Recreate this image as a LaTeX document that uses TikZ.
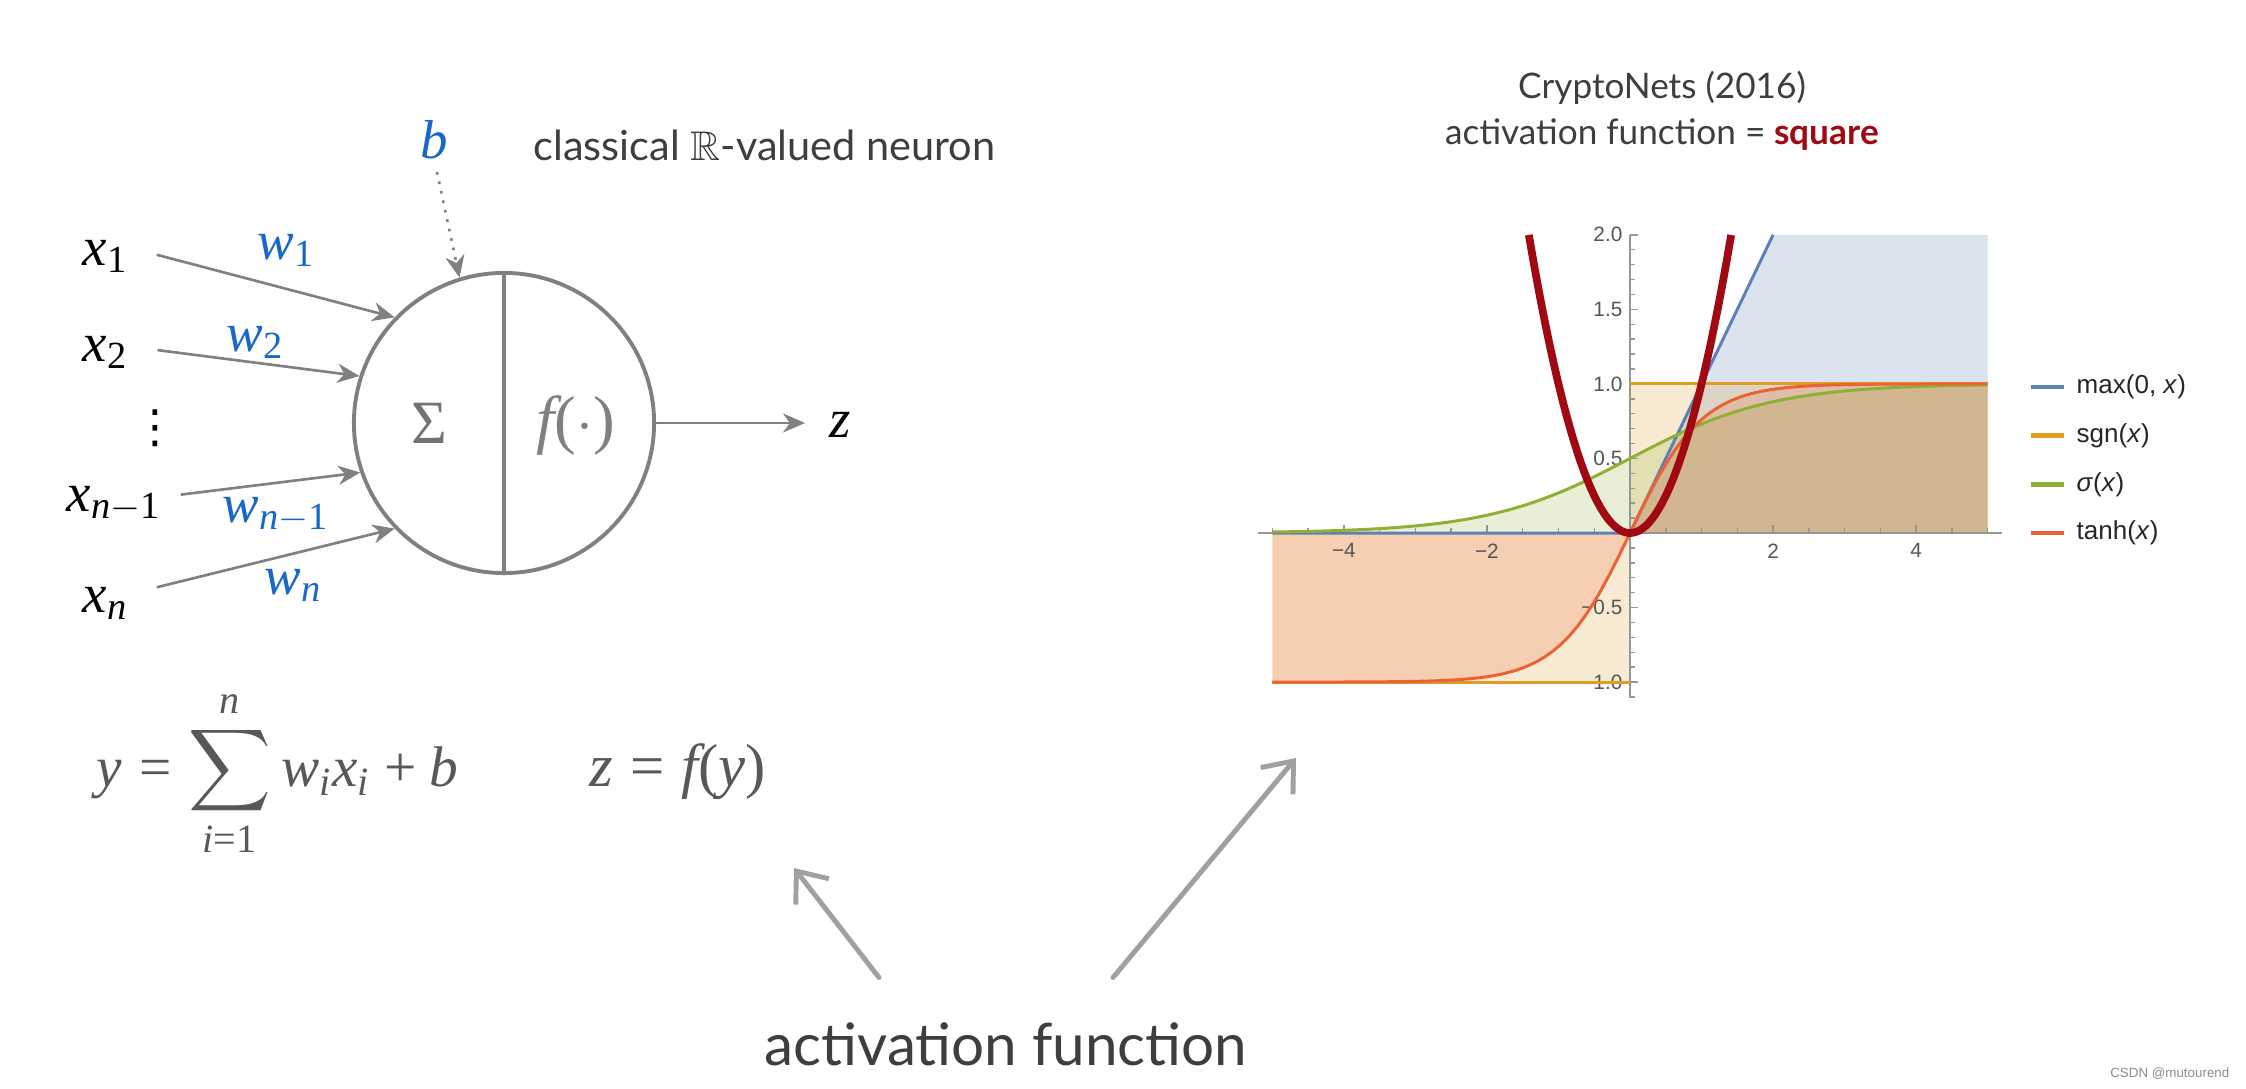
\documentclass[tikz,border=0pt]{standalone}
\usepackage{amsmath,amssymb}
\usepackage[no-math]{fontspec}
\setmainfont{Lato}
\newfontfamily\plotfont{Liberation Sans}
\newfontfamily\djv{DejaVu Sans}
\newfontfamily\lserif{Liberation Serif}[NFSSFamily=lserif]
\DeclareSymbolFont{letters}{TU}{lserif}{m}{it}
\DeclareSymbolFont{operators}{TU}{lserif}{m}{n}
\usetikzlibrary{arrows.meta,positioning}

\definecolor{nrngray}{RGB}{128,128,128}
\definecolor{wblue}{RGB}{24,104,204}
\definecolor{eqgray}{RGB}{88,88,88}
\definecolor{txtgray}{RGB}{62,62,62}
\definecolor{skgray}{RGB}{160,160,160}
\definecolor{sqred}{RGB}{160,8,18}
\definecolor{mmblue}{RGB}{94,129,181}
\definecolor{mmorange}{RGB}{225,156,36}
\definecolor{mmgreen}{RGB}{143,176,50}
\definecolor{mmred}{RGB}{235,98,53}
\definecolor{axgray}{RGB}{150,150,150}
\definecolor{tickgray}{RGB}{85,85,85}

\newcommand{\mathsz}{\fontsize{15.6}{18}\selectfont}

\begin{document}
\begin{tikzpicture}[x=0.01cm,y=-0.01cm,
    mlbl/.style={inner sep=0pt,font=\mathsz},
    wlbl/.style={mlbl,text=wblue},
    inarr/.style={draw=nrngray,line width=0.75pt,-{Stealth[length=0.22cm,width=0.19cm,inset=0.07cm]}},
    sketcharr/.style={draw=skgray,line width=1.4pt,line cap=round,-{Straight Barb[length=0.26cm,width=0.42cm]}},
    ttl/.style={inner sep=0pt,font=\fontsize{10}{12}\selectfont,text=txtgray},
    ticklbl/.style={inner sep=0pt,font=\plotfont\fontsize{5.9}{7}\selectfont,text=tickgray},
    legtxt/.style={inner sep=0pt,font=\plotfont\fontsize{7.4}{8}\selectfont,text=black!85}]
  \useasboundingbox (0,0) rectangle (2246,1088);
  \fill[white] (0,0) rectangle (2246,1088);

  % neuron
  \node[circle,draw=nrngray,line width=1.1pt,minimum size=3cm,inner sep=0pt] (nrn) at (504,423) {};
  \draw[nrngray,line width=1.1pt] (nrn.north) -- (nrn.south);
  \node[mlbl,text=nrngray!90!black,font=\lserif\fontsize{17.5}{18}\selectfont] (sig) at (429,423) {Σ};
  \node[mlbl,text=nrngray,font=\fontsize{18.5}{20}\selectfont] (fdot) at (576,426) {$f(\cdot)$};

  % inputs and weights
  \node[mlbl,anchor=base west] (x1) at (82,265) {$x_1$};
  \node[mlbl,anchor=base west] (x2) at (82,361) {$x_2$};
  \node[mlbl,font=\djv\fontsize{13}{14}\selectfont] (vd) at (155,428) {⋮};
  \node[mlbl,anchor=base west] (xm) at (66,511) {$x_{n-1}$};
  \node[mlbl,anchor=base west] (xn) at (82,612) {$x_n$};
  \node[wlbl,anchor=base west] (w1) at (257,259) {$w_1$};
  \node[wlbl,anchor=base west] (w2) at (226,351) {$w_2$};
  \node[wlbl,anchor=base west] (wm) at (222,522) {$w_{n-1}$};
  \node[wlbl,anchor=base west] (wn) at (264,594) {$w_n$};
  \node[wlbl,anchor=base west] (b) at (420,159) {$b$};

  \draw[inarr,shorten <=0.29cm] ([yshift=0.09cm]x1.east) -- (nrn.136);
  \draw[inarr,shorten <=0.29cm] ([yshift=0.06cm]x2.east) -- (nrn.162);
  \draw[inarr,shorten <=0.19cm] ([yshift=0.07cm]xm.east) -- (nrn.199);
  \draw[inarr,shorten <=0.29cm] ([yshift=0.09cm]xn.east) -- (nrn.224);
  \draw[inarr,dotted,shorten <=0.12cm] (b.south) -- (nrn.107);

  % output
  \node[mlbl,anchor=base west] (zout) at (829,437) {$z$};
  \draw[inarr,shorten >=0.24cm] (nrn.east) -- (nrn.east -| zout.west);

  \node[inner sep=0pt,anchor=base west,font=\fontsize{11.8}{14}\selectfont,text=txtgray] (cls) at (533,160) {classical $\mathbb{R}$-valued neuron};

  % equations
  \node[mlbl,text=eqgray,anchor=base west,font=\fontsize{16.3}{19}\selectfont] (eqy) at (96,786) {$\displaystyle y=\sum_{i=1}^{n} w_i x_i + b$};
  \node[mlbl,text=eqgray,anchor=base west,font=\fontsize{17.3}{19}\selectfont] (eqz) at (589,786) {$z=f(y)$};

  % title of the plot
  \node[ttl,anchor=base] (ttla) at (1662,99) {CryptoNets (2016)};
  \node[ttl,anchor=base] (ttlb) at (1662,145) {activation function = \textbf{\textcolor{sqred}{square}}};

  % plot
  \begin{scope}[shift={(1630,533)},x=0.715cm,y=1.49cm]
    \fill[mmblue,opacity=0.22] (0,0) -- (2,2) -- (5,2) -- (5,0) -- cycle;
    \fill[mmorange,opacity=0.2] (-5,-1) rectangle (0,0) (0,0) rectangle (5,1);
    \fill[mmgreen,opacity=0.2] (-5,0) -- plot[domain=-5:5,samples=90] (\x,{1/(1+exp(-\x))}) -- (5,0) -- cycle;
    \fill[mmred,opacity=0.2] (-5,0) -- plot[domain=-5:5,samples=90] (\x,{tanh(\x)}) -- (5,0) -- cycle;

    \draw[axgray,line width=0.5pt] (-5.2,0) -- (5.2,0);
    \draw[axgray,line width=0.5pt] (0,-1.11) -- (0,2);
    \foreach \t in {-10,...,10}
      \draw[axgray,line width=0.4pt] (\t/2,0) -- ++(0pt,1.4pt);
    \foreach \t in {-11,...,20}
      \draw[axgray,line width=0.4pt] (0,\t/10) -- ++(1.4pt,0pt);
    \foreach \t/\l [count=\i] in {-4/−4,-2/−2,2/2,4/4} {
      \draw[axgray,line width=0.4pt] (\t,0) -- ++(0pt,2.4pt);
      \node[ticklbl,anchor=north] (xl\i) at ([yshift=-0.1cm]\t,0) {\l};
    }
    \foreach \t/\l [count=\i] in {-1/−1.0,-0.5/−0.5,0.5/0.5,1/1.0,1.5/1.5,2/2.0} {
      \draw[axgray,line width=0.4pt] (0,\t) -- ++(2.4pt,0pt);
      \node[ticklbl,anchor=east] (yl\i) at ([xshift=-0.07cm]0,\t) {\l};
    }

    \draw[mmblue,line width=0.85pt] (-5,0) -- (0,0) -- (2,2);
    \draw[mmorange,line width=0.85pt] (-5,-1) -- (0,-1) (0,1) -- (5,1);
    \draw[mmgreen,line width=0.85pt] plot[domain=-5:5,samples=90] (\x,{1/(1+exp(-\x))});
    \draw[mmred,line width=0.85pt] plot[domain=-5:5,samples=90] (\x,{tanh(\x)});
    \draw[sqred,line width=2.2pt] plot[domain=-1.414:1.414,samples=60] (\x,{\x*\x});
  \end{scope}

  % legend
  \foreach \col/\txt [count=\i] in {mmblue/{max(0, \textit{x})},mmorange/{sgn(\textit{x})},mmgreen/{\textit{σ}(\textit{x})},mmred/{tanh(\textit{x})}} {
    \node[legtxt,anchor=west] (leg\i) at (2076,{387+48.7*(\i-1)}) {\txt};
    \draw[\col,line width=1.3pt] ([xshift=-0.12cm]leg\i.west) -- ++(-0.33cm,0pt);
  }

  % pointer text at the bottom
  \node[inner sep=0pt,anchor=base,font=\fontsize{16.6}{20}\selectfont,text=txtgray] (actfn) at (1006,1065) {activation function};
  \coordinate (tipf) at (794,868);
  \coordinate (tipp) at (1296,758);
  \draw[sketcharr] ([shift={(-127,-44)}]actfn.north) -- (tipf);
  \draw[sketcharr] ([shift={(107,-44)}]actfn.north) -- (tipp);

  \node[inner sep=0pt,anchor=base east,font=\plotfont\fontsize{3.8}{4}\selectfont,text=black!45] (wmk) at (2230,1077) {CSDN @mutourend};
\end{tikzpicture}
\end{document}
